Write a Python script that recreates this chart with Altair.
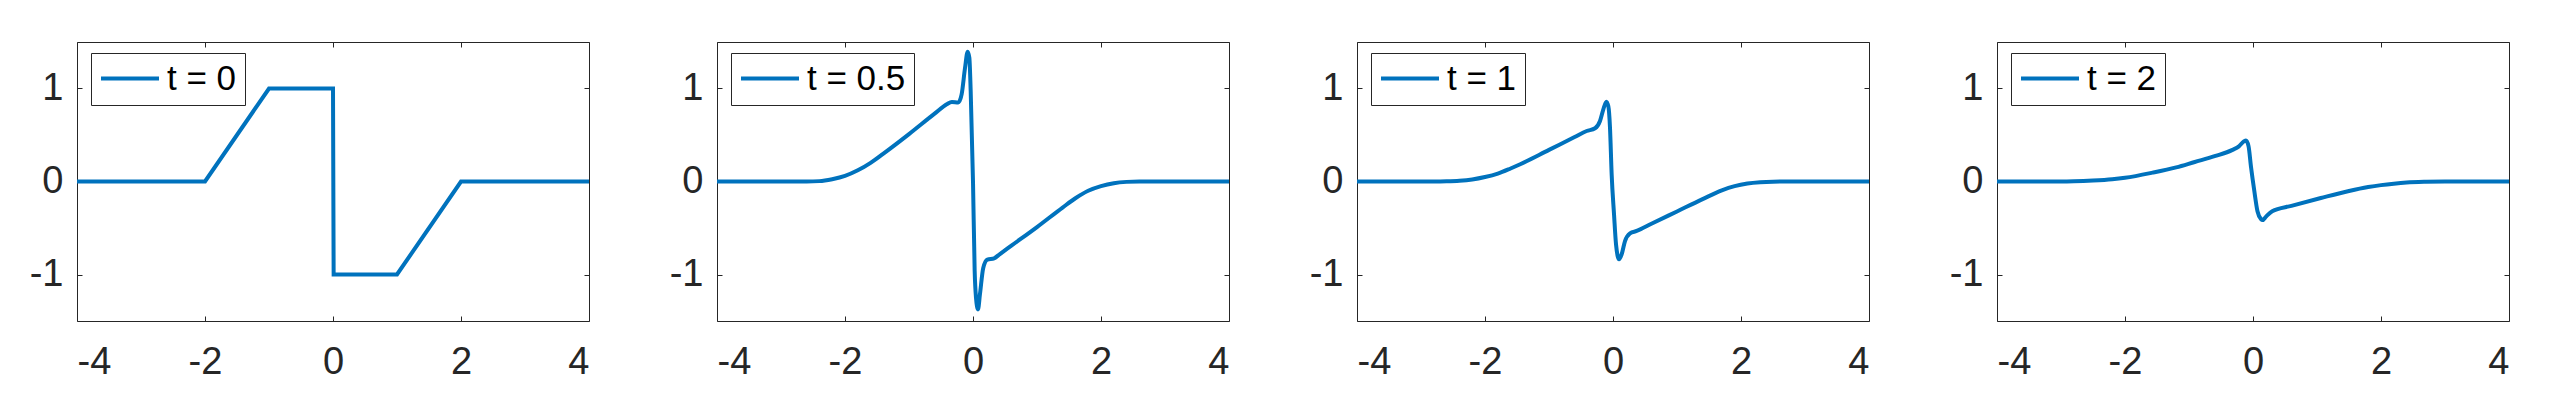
import altair as alt
import pandas as pd

# ---------------- data ----------------
x_ticks = [-4, -2, 0, 2, 4]
y_ticks = [-1, 0, 1]
labels = ["t = 0", "t = 0.5", "t = 1", "t = 2"]

x_t0 = [-4, -2, -1, 0, 0.01, 1, 2, 4]
u_t0 = [0, 0, 1, 1, -1, -1, 0, 0]

x_t05 = [-4, -2.6, -2.4, -2.2, -2.0, -1.8, -1.6, -1.4, -1.0, -0.6, -0.41, -0.33,
         -0.23, -0.177, -0.125, -0.083, -0.057, -0.036, 0.0, 0.026, 0.047, 0.078,
         0.109, 0.16, 0.224, 0.33, 0.42, 0.6, 1.0, 1.4, 1.6, 1.8, 2.0, 2.2, 2.4, 2.6, 4]
u_t05 = [0, 0, 0.004, 0.025, 0.06, 0.12, 0.2, 0.3, 0.51, 0.73, 0.83, 0.855,
         0.85, 0.94, 1.22, 1.396, 1.33, 0.97, 0.0, -0.96, -1.25, -1.375,
         -1.21, -0.93, -0.84, -0.826, -0.78, -0.69, -0.49, -0.28, -0.18, -0.1, -0.05, -0.018, -0.004, 0, 0]

x_t1 = [-4, -2.8, -2.6, -2.4, -2.2, -2.0, -1.8, -1.6, -1.45, -1.0, -0.6, -0.411,
        -0.28, -0.203, -0.151, -0.104, -0.073, -0.047, -0.021, 0.016, 0.047, 0.094,
        0.135, 0.1875, 0.266, 0.37, 0.6, 1.0, 1.4, 1.7, 1.9, 2.1, 2.3, 2.5, 2.8, 4]
u_t1 = [0, 0, 0.002, 0.008, 0.022, 0.048, 0.085, 0.14, 0.185, 0.34, 0.478, 0.543,
        0.572, 0.65, 0.776, 0.858, 0.81, 0.58, 0.077, -0.353, -0.675, -0.836,
        -0.783, -0.64, -0.557, -0.532, -0.455, -0.322, -0.189, -0.095, -0.05, -0.022, -0.008, -0.002, 0, 0]

x_t2 = [-4, -3.0, -2.8, -2.5, -2.2, -2.0, -1.57, -1.2, -0.91, -0.6, -0.32, -0.22,
        -0.14, -0.11, -0.07, -0.03, 0.02, 0.07, 0.125, 0.15, 0.2, 0.3, 0.6, 1.06,
        1.5, 1.8, 2.0, 2.2, 2.4, 2.7, 3.0, 4]
u_t2 = [0, 0, 0.002, 0.01, 0.024, 0.04, 0.095, 0.152, 0.21, 0.272, 0.34, 0.378,
        0.432, 0.44, 0.38, 0.15, -0.10, -0.32, -0.405, -0.415, -0.38, -0.32, -0.262, -0.178,
        -0.102, -0.06, -0.039, -0.023, -0.011, -0.003, 0, 0]

series = [(x_t0, u_t0, "linear"), (x_t05, u_t05, "monotone"),
          (x_t1, u_t1, "monotone"), (x_t2, u_t2, "monotone")]

BLUE = "#0072BD"
AX = "#262626"
FONT = "Liberation Sans"


def panel(xs, us, label, interp):
    df = pd.DataFrame({"x": xs, "u": us, "label": [label] * len(xs)})
    xsc = alt.Scale(domain=[-4, 4], nice=False, zero=False)
    ysc = alt.Scale(domain=[-1.5, 1.5], nice=False, zero=False)
    common = dict(tickSize=5, offset=-5, tickColor=AX, tickWidth=1, domain=False,
                  grid=False, title=None, labelFont=FONT, labelFontSize=38,
                  labelColor=AX)
    line = alt.Chart(df).mark_line(strokeWidth=4, interpolate=interp, clip=True).encode(
        x=alt.X("x:Q", scale=xsc,
                axis=alt.Axis(orient="bottom", values=x_ticks, labelPadding=22,
                              labelExpr="'' + datum.value", **common)),
        y=alt.Y("u:Q", scale=ysc,
                axis=alt.Axis(orient="left", values=y_ticks, labelPadding=14,
                              labelExpr="'' + datum.value", **common)),
        color=alt.Color("label:N",
                        scale=alt.Scale(domain=[label], range=[BLUE]),
                        legend=alt.Legend(title=None, orient="none", legendX=14, legendY=11,
                                          symbolType="stroke", symbolSize=58 * 58,
                                          symbolStrokeWidth=4, clipHeight=35,
                                          labelFont=FONT, labelFontSize=35,
                                          labelColor="#000000", labelOffset=6,
                                          padding=8, strokeColor=AX, fillColor="white",
                                          cornerRadius=0)),
    )
    mirror = alt.Chart(df).mark_line(opacity=0).encode(
        x=alt.X("x:Q", scale=xsc,
                axis=alt.Axis(orient="top", values=x_ticks, labels=False, **common)),
        y=alt.Y("u:Q", scale=ysc,
                axis=alt.Axis(orient="right", values=y_ticks, labels=False, **common)),
    )
    return alt.layer(mirror, line).resolve_axis(x="independent", y="independent").properties(
        width=512, height=279)


panels = [panel(xs, us, lab, interp) for (xs, us, interp), lab in zip(series, labels)]

chart = alt.hconcat(*panels, spacing=128, bounds="flush").resolve_scale(
    color="independent").configure_view(stroke=AX, strokeWidth=1).properties(
    padding={"left": 20, "top": 33, "right": 5, "bottom": 5},
    background="white")

chart.save("out.html", embed_options={"renderer": "svg", "actions": False})
